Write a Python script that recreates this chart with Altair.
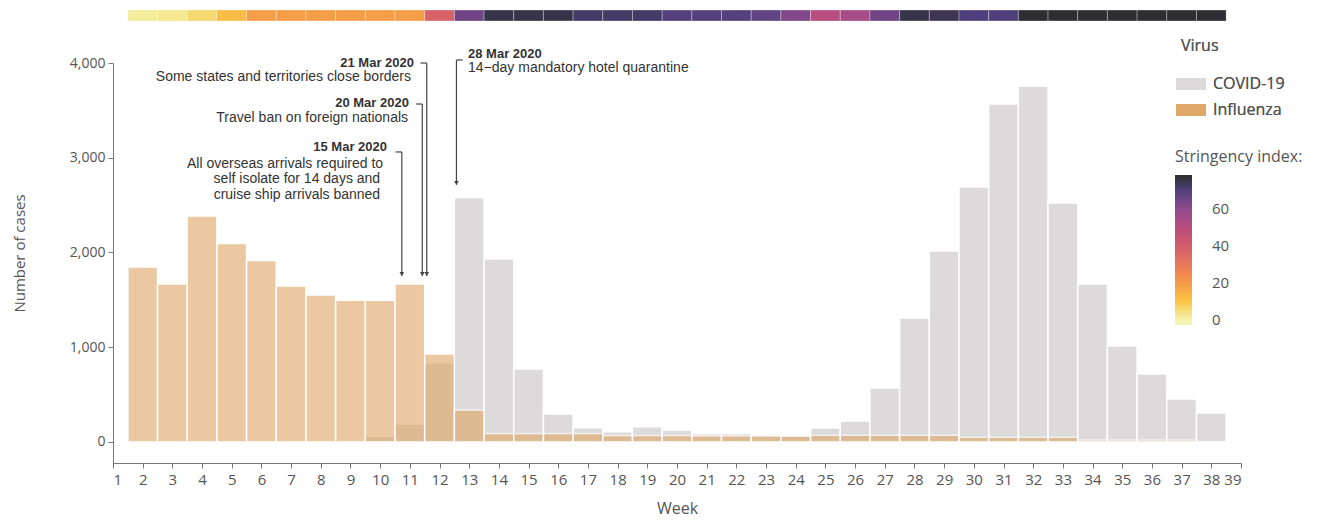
import altair as alt
import pandas as pd

# ---------------- data ----------------
weeks = list(range(2, 39))
covid = [0, 0, 15, 15, 15, 0, 15, 15, 60, 190, 834, 2580, 1930, 770, 295, 150, 108,
         160, 127, 90, 90, 75, 60, 148, 222, 570, 1308, 2015, 2690, 3567, 3757, 2522,
         1667, 1013, 718, 454, 306]
influenza = [1847, 1667, 2385, 2095, 1915, 1645, 1550, 1495, 1495, 1667, 929, 338, 90,
             90, 90, 90, 68, 68, 68, 65, 65, 62, 62, 70, 70, 70, 70, 70, 50, 50, 50, 50,
             20, 20, 20, 20, 0]
stringency = [2, 3, 6, 12, 19, 19, 19, 19, 19, 19, 38, 65, 75, 75, 75, 72, 72, 72, 69,
              69, 69, 67, 62, 50, 54, 65, 75, 74, 70, 70, 78, 78, 78, 78, 78, 78, 78]

virus_names = ["COVID-19", "Influenza"]
virus_colors = ["#dcdadb", "#e0a868"]

str_stops = [-2.5, 0, 10, 20, 40, 60, 70, 75, 78]
str_colors = ["#f6f4b2", "#f6f4b2", "#fbc545", "#f39a48", "#d25d6a", "#8f4a8c",
              "#4f3f7c", "#383449", "#2d2d33"]

# annotations (event dates expressed in weeks)
ann_date = ["15 Mar 2020", "20 Mar 2020", "21 Mar 2020", "28 Mar 2020"]
ann_week = [10.73, 11.42, 11.57, 12.57]
ann_top = [3061, 3567, 4000, 4032]
ann_tip = [1752, 1752, 1752, 2712]
ann_tick_end = [10.52, 11.21, 11.36, 12.78]

text_label = ["15 Mar 2020", "All overseas arrivals required to",
              "self isolate for 14 days and", "cruise ship arrivals banned",
              "20 Mar 2020", "Travel ban on foreign nationals",
              "21 Mar 2020", "Some states and territories close borders",
              "28 Mar 2020", "14\u2212day mandatory hotel quarantine"]
text_x = [10.23, 10.10, 10.0, 10.0, 10.97, 10.94, 11.14, 11.04, 12.96, 12.96]
text_y = [3113, 2934, 2776, 2607, 3581, 3420, 4003, 3852, 4095, 3947]
text_bold = [1, 0, 0, 0, 1, 0, 1, 0, 1, 0]
text_side = ["right"] * 8 + ["left"] * 2

# ---------------- tables ----------------
bars = pd.DataFrame({
    "week": weeks * 2,
    "virus": ["COVID-19"] * len(weeks) + ["Influenza"] * len(weeks),
    "cases": covid + influenza,
})
strip = pd.DataFrame({"week": weeks, "stringency": stringency})
ann = pd.DataFrame({"date": ann_date, "wk": ann_week, "top": ann_top,
                    "tip": ann_tip, "tick_end": ann_tick_end})
texts = pd.DataFrame({"label": text_label, "tx": text_x, "ty": text_y,
                      "bold": text_bold, "side": text_side})

AX_FONT = "Open Sans"
ANN_FONT = "Liberation Sans Narrow, Liberation Sans, sans-serif"
GREY = "#555555"

xscale = alt.Scale(domain=[1, 39], nice=False, zero=False)
yscale = alt.Scale(domain=[-222, 4000], nice=False, zero=False)

x_axis = alt.Axis(values=list(range(1, 40)), title="Week", grid=False,
                  labelExpr="format(datum.value, 'd')",
                  labelFontSize=15, labelColor=GREY, labelFont=AX_FONT,
                  labelPadding=4, tickSize=5, tickColor="#777", domainColor="#777",
                  titleFont=AX_FONT, titleFontSize=16, titleFontWeight="normal",
                  titleColor=GREY, titleY=37)
y_axis = alt.Axis(values=[0, 1000, 2000, 3000, 4000], title="Number of cases",
                  labelExpr="format(datum.value, ',')",
                  grid=False, labelFontSize=14, labelColor=GREY, labelFont=AX_FONT,
                  labelPadding=3, tickSize=5, tickColor="#777", domainColor="#777",
                  titleFont=AX_FONT, titleFontSize=15, titleFontWeight="normal",
                  titleColor=GREY, titleX=-86, titleY=190)


def X(field):
    return alt.X(field, scale=xscale, axis=x_axis)


def Y(field):
    return alt.Y(field, scale=yscale, axis=y_axis)


virus_scale = alt.Scale(domain=virus_names, range=virus_colors)
virus_legend = alt.Legend(
    title="Virus", orient="none", legendX=1068, legendY=-25,
    symbolType="M-1.5,-0.6H1.5V0.6H-1.5Z", symbolSize=400, symbolStrokeWidth=0,
    symbolOpacity=1,
    labelOffset=12, rowPadding=8, titlePadding=20,
    labelFont=AX_FONT, labelFontSize=16, labelColor=GREY,
    titleFont=AX_FONT, titleFontSize=16, titleFontWeight="normal", titleColor=GREY,
)

base_bars = alt.Chart(bars).transform_calculate(
    x0="datum.week - 0.5", x1="datum.week + 0.5", zero="0"
)

covid_layer = base_bars.transform_filter(alt.datum.virus == "COVID-19").mark_rect(
    opacity=1, stroke="white", strokeWidth=1.5
).encode(
    x=X("x0:Q"), x2="x1:Q", y=Y("cases:Q"), y2="zero:Q",
    color=alt.Color("virus:N", scale=virus_scale, legend=virus_legend),
)

flu_layer = base_bars.transform_filter(alt.datum.virus == "Influenza").mark_rect(
    opacity=0.62, stroke="white", strokeWidth=1.5
).encode(
    x=X("x0:Q"), x2="x1:Q", y=Y("cases:Q"), y2="zero:Q",
    color=alt.Color("virus:N", scale=virus_scale, legend=virus_legend),
)

strip_layer = alt.Chart(strip).transform_calculate(
    x0="datum.week - 0.5", x1="datum.week + 0.5"
).mark_rect(stroke="#ffffff", strokeWidth=0.6, strokeOpacity=0.5).encode(
    x=X("x0:Q"), x2="x1:Q",
    y=alt.value(-53), y2=alt.value(-42),
    color=alt.Color("stringency:Q",
                    scale=alt.Scale(domain=str_stops, range=str_colors),
                    legend=alt.Legend(
                        title="Stringency index:", orient="none", legendX=1062,
                        legendY=86, direction="vertical", type="gradient",
                        gradientLength=150, gradientThickness=17,
                        gradientStrokeWidth=0, values=[0, 20, 40, 60],
                        labelOffset=20, titlePadding=10,
                        labelFont=AX_FONT, labelFontSize=15, labelColor=GREY,
                        titleFont=AX_FONT, titleFontSize=16,
                        titleFontWeight="normal", titleColor=GREY)),
)

ann_base = alt.Chart(ann)
ann_rule = ann_base.mark_rule(color="#444", strokeWidth=1.2).encode(
    x=X("wk:Q"), y=Y("top:Q"), y2="tip:Q",
)
ann_tick = ann_base.mark_rule(color="#444", strokeWidth=1.2).encode(
    x=X("tick_end:Q"), x2="wk:Q", y=Y("top:Q"),
)
ann_head = ann_base.mark_point(shape="triangle-down", filled=True, size=22,
                               color="#444", opacity=1, yOffset=-2).encode(
    x=X("wk:Q"), y=Y("tip:Q"),
)


def text_layer(side, bold):
    return alt.Chart(texts).transform_filter(
        (alt.datum.side == side) & (alt.datum.bold == bold)
    ).mark_text(
        align=side, baseline="middle", font=ANN_FONT,
        fontSize=13 if bold else 14, fontWeight="bold" if bold else "normal",
        color="#333333",
    ).encode(
        x=X("tx:Q"), y=Y("ty:Q"), text="label:N",
    )


chart = alt.layer(
    strip_layer, covid_layer, flu_layer, ann_rule, ann_tick, ann_head,
    text_layer("right", 1), text_layer("right", 0),
    text_layer("left", 1), text_layer("left", 0),
).resolve_scale(color="independent").properties(
    width=1128, height=400,
    padding={"left": 105, "top": 55, "right": 70, "bottom": 55},
    autosize=alt.AutoSizeParams(type="none"),
).configure_view(stroke=None)

chart.save("out.html", embed_options={"renderer": "svg", "actions": False})
